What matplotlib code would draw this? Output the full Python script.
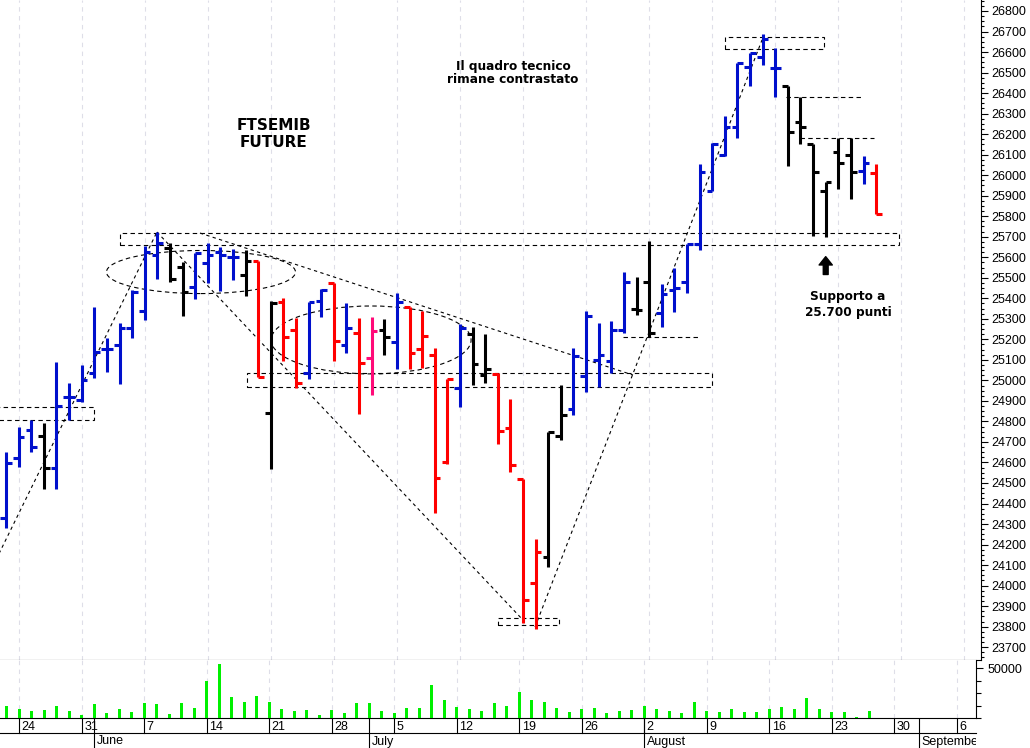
import numpy as np
import pandas as pd
import matplotlib
matplotlib.use('Agg')
import matplotlib.pyplot as plt
from matplotlib.patches import Rectangle, Ellipse
from matplotlib.ticker import MultipleLocator, FixedLocator

plt.rcParams['font.family'] = 'Liberation Sans'

# FTSEMIB future, daily bars 21 May - 26 Aug 2021
dates = pd.bdate_range('2021-05-21', '2021-08-26')

opens = [24330, 24620, 24758, 24729, 24575, 24917, 24904, 25034, 25153, 25172,
         25254, 25338, 25611, 25643, 25551, 25453, 25570, 25627, 25603, 25513,
         25583, 24839, 25383, 25245, 25037, 25388, 25476, 25172, 25229, 25107,
         25245, 25189, 25359, 25151, 25124, 24600, 24961, 25226, 25025, 25033,
         24769, 24519, 24011, 24141, 24729, 24859, 25022, 25100, 25092, 25246,
         25347, 25481, 25327, 25441, 25477, 25665, 25924, 26098, 26233, 26525,
         26574, 26520, 26434, 26261, 26152, 25924, 26114, 26098, 26022, 26009]
highs = [24653, 24771, 24807, 24794, 25091, 24989, 25075, 25356, 25205, 25278,
         25440, 25655, 25725, 25668, 25578, 25622, 25668, 25652, 25639, 25635,
         25583, 25387, 25400, 25306, 25383, 25444, 25476, 25379, 25302, 25307,
         25297, 25427, 25359, 25340, 25156, 25007, 25276, 25258, 25228, 25034,
         24907, 24519, 24225, 24750, 24978, 25157, 25340, 25278, 25287, 25530,
         25506, 25681, 25470, 25550, 25665, 26054, 26158, 26288, 26548, 26597,
         26688, 26618, 26434, 26382, 26152, 25968, 26179, 26179, 26093, 26054]
lows = [24281, 24580, 24653, 24469, 24469, 24807, 24896, 25010, 25042, 24982,
        25205, 25294, 25492, 25481, 25314, 25395, 25476, 25437, 25489, 25411,
        25015, 24566, 25096, 24961, 25005, 25307, 25096, 25132, 24836, 24929,
        25124, 25054, 25054, 25059, 24352, 24593, 24872, 24977, 24987, 24692,
        24552, 23816, 23788, 24089, 24710, 24832, 24941, 24970, 25035, 25230,
        25319, 25210, 25259, 25335, 25425, 25635, 25924, 26093, 26179, 26434,
        26537, 26379, 26045, 26152, 25703, 25700, 25931, 25882, 25957, 25811]
closes = [24596, 24726, 24677, 24575, 24875, 24917, 25002, 25140, 25153, 25254,
          25432, 25627, 25668, 25492, 25432, 25622, 25611, 25611, 25603, 25583,
          25018, 25379, 25210, 24989, 25383, 25440, 25193, 25254, 25086, 25242,
          25210, 25383, 25135, 25216, 24523, 25007, 25254, 25079, 25057, 24755,
          24588, 23930, 24165, 24750, 24832, 25119, 25316, 25124, 25246, 25477,
          25343, 25230, 25421, 25449, 25665, 26017, 26152, 26233, 26548, 26597,
          26662, 26520, 26212, 26233, 26017, 25968, 26058, 26017, 26058, 25811]
bar_kind = list("bbbk" "bbbbbbbbb" "kk" "bbbb" "k" "r" "k" "rr" "bb" "r" "b" "r" "p" "k"
                "b" "rrrr" "b" "kk" "rrrr" "kk" "bbbbb" "kk" "bbbbbbbbbb" "kkkkkk" "b" "r")
volume = [12600, 9000, 7000, 7600, 11600, 7300, 3300, 14000, 5000, 9000,
          6000, 15000, 14000, 4300, 15000, 10000, 37600, 54300, 21300, 16300,
          22300, 16300, 9000, 6600, 8000, 3300, 8300, 5000, 15000, 15000,
          7300, 5000, 10000, 10000, 33300, 18300, 11300, 9000, 7000, 15000,
          12600, 26600, 18300, 16300, 9600, 6000, 8600, 10000, 5000, 7000,
          7600, 11600, 9000, 7300, 5000, 16000, 7000, 6300, 9000, 6300,
          6000, 9000, 11000, 9000, 20300, 9000, 6300, 6000, 1000, 7000]

# drawn studies (bar index units, price)
boxes = [(-1.6, 5.98, 24807, 24870), (8.04, 69.82, 25660, 25717),
         (18.09, 54.96, 24969, 25034), (38.02, 42.85, 23808, 23841),
         (56.02, 63.87, 26613, 26672)]
levels = [(60.86, 66.88, 26382), (61.97, 67.83, 26180), (47.93, 53.95, 25210)]
trendlines = [((-1.6, 24150), (10.97, 25723)), ((10.97, 25723), (40.0, 23832)),
              ((40.95, 23798), (58.95, 26659)), ((14.38, 25718), (48.72, 25026))]
ellipses = [(14.46, 25528, 14.99, 210), (27.95, 25197, 15.86, 331)]

palette = {'b': '#0010cc', 'k': '#000000', 'r': '#ff0000', 'p': '#ff0a78'}
colors = [palette[c] for c in bar_kind]

pos = np.busday_count(np.datetime64('2021-05-24'), dates.values.astype('datetime64[D]'))
mondays = pd.date_range('2021-05-24', '2021-09-06', freq='W-MON')
mon_pos = np.busday_count(np.datetime64('2021-05-24'), mondays.values.astype('datetime64[D]'))
month_starts = ['2021-06-01', '2021-07-01', '2021-08-02', '2021-09-01']
month_names = ['June', 'July', 'August', 'September']
month_pos = np.busday_count(np.datetime64('2021-05-24'), np.array(month_starts, dtype='datetime64[D]'))

W, H = 1030, 748
fig = plt.figure(figsize=(W / 100, H / 100), dpi=100)
ax = fig.add_axes([0, 1 - 660 / H, 980.7 / W, 660 / H])
vax = fig.add_axes([0, 1 - 718 / H, 976 / W, 58 / H])
dax = fig.add_axes([0, 0, 976 / W, 30 / H])

grid_kw = dict(color='#dedee8', lw=0.8, ls=(0, (4, 4)), zorder=0)

# price panel
for m in mon_pos:
    ax.axvline(m, **grid_kw)
tick = 0.45
ax.vlines(pos, lows, highs, colors=colors, lw=2.2, zorder=3)
ax.hlines(opens, pos - tick, pos, colors=colors, lw=2.2, zorder=3)
ax.hlines(closes, pos, pos + tick, colors=colors, lw=2.2, zorder=3)

dash = dict(color='black', lw=0.8, zorder=2)
for x0, x1, lo, hi in boxes:
    ax.add_patch(Rectangle((x0, lo), x1 - x0, hi - lo, fill=False, ls=(0, (4, 3)), **dash))
for x0, x1, y in levels:
    ax.plot([x0, x1], [y, y], ls=(0, (4, 3)), **dash)
for (x0, y0), (x1, y1) in trendlines:
    ax.plot([x0, x1], [y0, y1], ls=(0, (3, 3)), **dash)
for cx, cy, w, h in ellipses:
    ax.add_patch(Ellipse((cx, cy), w, h, fill=False, ls=(0, (4, 3)), **dash))

tkw = dict(family='DejaVu Sans', weight='bold', ha='center', va='baseline', color='black')
ax.text(20.25, 26220, 'FTSEMIB', fontsize=11, **tkw)
ax.text(20.25, 26139, 'FUTURE', fontsize=11, **tkw)
ax.text(39.21, 26512, 'Il quadro tecnico', fontsize=8.7, **tkw)
ax.text(39.21, 26448, 'rimane contrastato', fontsize=8.7, **tkw)
ax.text(65.77, 25392, 'Supporto a', fontsize=8.7, **tkw)
ax.text(65.77, 25314, '25.700 punti', fontsize=8.7, **tkw)
ax.annotate('', xy=(64, 25603), xytext=(64, 25516),
            arrowprops=dict(arrowstyle='simple,head_length=0.6,head_width=0.95,tail_width=0.35',
                            color='black', mutation_scale=10, shrinkA=0, shrinkB=0))

ax.set_xlim(-1.476, 76.29)
ax.set_ylim(23637.4, 26853.6)
ax.yaxis.tick_right()
ax.yaxis.set_major_locator(MultipleLocator(100))
ax.yaxis.set_minor_locator(MultipleLocator(25))
ax.tick_params(axis='y', which='major', length=5, width=0.8, pad=3, labelsize=9)
ax.tick_params(axis='y', which='minor', length=2.5, width=0.8)
ax.set_xticks([])
for s in ['top', 'left']:
    ax.spines[s].set_visible(False)

# volume panel
for m in mon_pos:
    vax.axvline(m, **grid_kw)
vax.bar(pos, volume, width=0.26, color='#00f000', zorder=3)
vax.set_xlim(-1.544, 76.54)
vax.set_ylim(0, 58500)
vax.yaxis.tick_right()
vax.yaxis.set_major_locator(FixedLocator([50000]))
vax.yaxis.set_minor_locator(FixedLocator([0, 12500, 25000, 37500]))
vax.tick_params(axis='y', which='major', length=5, width=0.8, pad=3, labelsize=9)
vax.tick_params(axis='y', which='minor', length=3.5, width=0.8)
vax.set_xticks([])
for s in ['top', 'left']:
    vax.spines[s].set_visible(False)

# date rows
dax.set_xlim(-1.544, 76.54)
dax.set_ylim(0, 30)
dax.axis('off')
dax.plot([-1.544, 76.54], [15, 15], color='black', lw=0.8, clip_on=False)
for m, d in zip(mon_pos, mondays):
    dax.plot([m, m], [15, 30], color='black', lw=0.8)
    dax.text(m + 0.2, 21.5, str(d.day), fontsize=9, ha='left', va='center', clip_on=True)
for m, name in zip(month_pos, month_names):
    dax.plot([m, m], [0, 30], color='black', lw=0.8)
    dax.text(m + 0.2, 6.5, name, fontsize=9, ha='left', va='center', clip_on=True)

fig.savefig('out.png', dpi=100)
